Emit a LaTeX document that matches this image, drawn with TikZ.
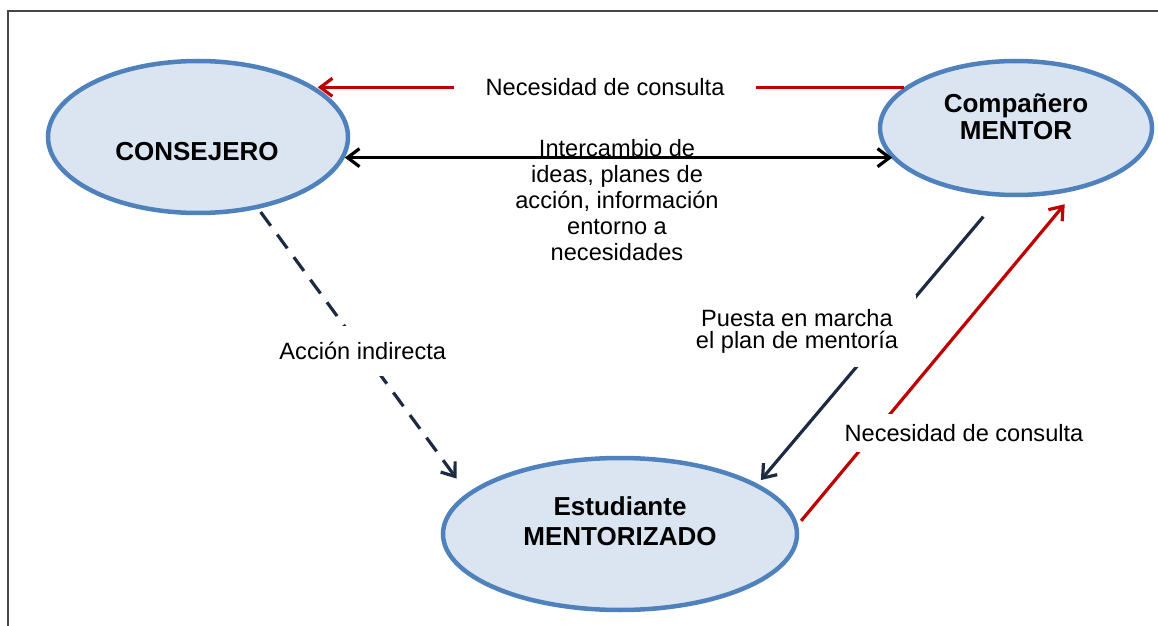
\documentclass[tikz,border=0pt]{standalone}
\usepackage{fontspec}
\setmainfont{Liberation Sans}
\usetikzlibrary{shapes.geometric,arrows.meta}
\definecolor{actorfill}{RGB}{219,229,241}
\definecolor{actorline}{RGB}{79,129,189}
\definecolor{consultred}{RGB}{192,0,0}
\definecolor{plannavy}{RGB}{28,42,66}
\definecolor{framegray}{RGB}{70,70,70}

\begin{document}
\begin{tikzpicture}[x=0.5pt,y=-0.5pt,
    actor/.style={ellipse,draw=actorline,fill=actorfill,line width=2.25pt,inner sep=0pt},
    actortext/.style={font=\bfseries\fontsize{13}{13.5}\selectfont,align=center},
    lbl/.style={text=black,font=\fontsize{11.8}{13}\selectfont,align=center},
    tip/.style={-{Straight Barb[length=6pt,width=9pt]}},
    consult/.style={consultred,line width=1.6pt},
    plan/.style={plannavy,line width=1.6pt}]
    \useasboundingbox (0,0) rectangle (1158,626);
    \draw[framegray,line width=0.75pt] (8,626) -- (8,11) -- (1158,11);
    \node[actor,minimum width=150pt,minimum height=76pt] (cons) at (198,137) {};
    \node[actor,minimum width=136pt,minimum height=67pt] (ment) at (1016,128) {};
    \node[actor,minimum width=177pt,minimum height=76pt] (stud) at (620,534) {};
    \node[actortext] (constext) at (197,152) {CONSEJERO};
    \node[actortext] (menttext) at (1016,117) {Compañero\\MENTOR};
    \node[actortext] (studtext) at (620,521) {Estudiante\\[1.5pt]MENTORIZADO};
    \draw[consult,tip] (ment.160) -- (cons.22 |- ment.160)
        node[lbl,pos=0.51,fill=white,inner xsep=16pt] (needtop) {Necesidad de consulta};
    \draw[black,line width=1.6pt,{Straight Barb[length=6pt,width=9pt]}-{Straight Barb[length=6pt,width=9pt]}]
        (cons.-8) -- (ment.194 |- cons.-8);
    \node[lbl] (talktext) at (617,200) {Intercambio de\\ideas, planes de\\acción, información\\entorno a\\necesidades};
    \draw[plan,dash pattern=on 8.5pt off 5.5pt,tip,shorten <=2pt,shorten >=9pt] (cons.-50) -- (stud.165)
        node[lbl,midway,fill=white,inner ysep=8pt] (indirect) {Acción indirecta};
    \draw[plan,tip,shorten <=13pt,shorten >=2.5pt] (ment.257) -- (stud.20.5);
    \node[lbl,font=\fontsize{11.8}{11}\selectfont,fill=white,inner xsep=9pt,inner ysep=7pt] (launch) at (797,331) {Puesta en marcha\\el plan de mentoría};
    \draw[consult,tip,shorten <=2.5pt,shorten >=9pt] (stud.3) -- (ment.-46);
    \node[lbl,fill=white,inner xsep=3pt,inner ysep=5pt] (needside) at (964,433) {Necesidad de consulta};
\end{tikzpicture}
\end{document}
